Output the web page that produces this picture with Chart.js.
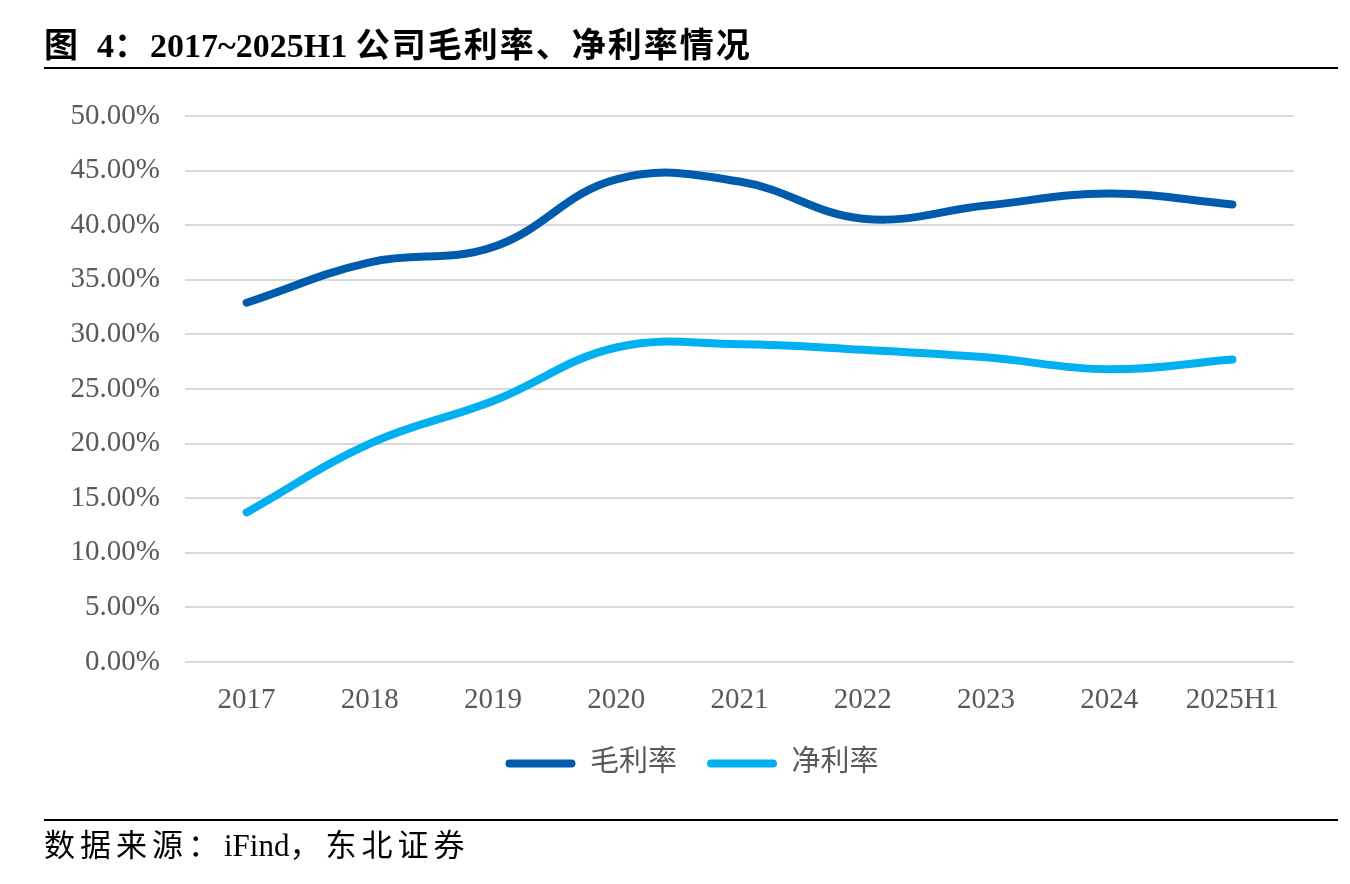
<!DOCTYPE html>
<html>
<head>
<meta charset="utf-8">
<script src="https://cdn.jsdelivr.net/npm/chart.js@4.4.1/dist/chart.umd.min.js"></script>
<style>
  html, body { margin: 0; padding: 0; background: #ffffff; }
  body { width: 1350px; height: 884px; position: relative; overflow: hidden; }
  #title { position: absolute; left: 44px; top: 26px; font-family: "Liberation Serif", "Noto Sans CJK SC", serif; font-weight: bold; font-size: 34px; line-height: 40px; color: #000; white-space: nowrap; }
  #title .cjk { letter-spacing: 2px; }
  #topline { position: absolute; left: 44px; top: 67px; width: 1294px; height: 2px; background: #000; }
  #botline { position: absolute; left: 44px; top: 819px; width: 1294px; height: 2px; background: #000; }
  #source { position: absolute; left: 44px; top: 826px; font-family: "Liberation Serif", "Noto Sans CJK SC", serif; font-size: 31px; line-height: 40px; color: #000; white-space: nowrap; }
  #source .cjk { letter-spacing: 5px; }
  #wrap { position: absolute; left: 0; top: 0; width: 1350px; height: 884px; }
</style>
</head>
<body>
<div id="wrap"><canvas id="c"></canvas></div>
<div id="title"><span class="cjk">图</span>&nbsp;&nbsp;4<span class="cjk">：</span>2017~2025H1 <span class="cjk">公司毛利率、净利率情况</span></div>
<div id="topline"></div>
<div id="botline"></div>
<div id="source"><span class="cjk">数据来源：</span>iFind<span class="cjk">，东北证券</span></div>
<script>
const categories = ["2017", "2018", "2019", "2020", "2021", "2022", "2023", "2024", "2025H1"];
const grossMargin = [32.9, 36.6, 38.0, 44.2, 44.0, 40.6, 41.8, 42.9, 41.9];
const netMargin = [13.7, 20.0, 23.9, 28.8, 29.1, 28.6, 27.9, 26.8, 27.7];
const seriesNames = ["毛利率", "净利率"];
const yTicks = [0, 5, 10, 15, 20, 25, 30, 35, 40, 45, 50];

const serif = '"Liberation Serif", "Noto Sans CJK SC", serif';

new Chart(document.getElementById('c'), {
  type: 'line',
  data: {
    labels: categories,
    datasets: [
      { label: seriesNames[0], data: grossMargin, yAxisID: 'y', borderColor: '#005BAC', backgroundColor: '#005BAC', borderWidth: 8, pointRadius: 0, tension: 0.4, borderCapStyle: 'round', fill: false },
      { label: seriesNames[1], data: netMargin, yAxisID: 'y', borderColor: '#00B0F0', backgroundColor: '#00B0F0', borderWidth: 8, pointRadius: 0, tension: 0.4, borderCapStyle: 'round', fill: false }
    ]
  },
  options: {
    responsive: true,
    maintainAspectRatio: false,
    animation: false,
    layout: { padding: { left: 60, right: 26, top: 116, bottom: 96 } },
    plugins: {
      tooltip: { enabled: false },
      legend: {
        position: 'bottom',
        labels: {
          boxWidth: 70,
          boxHeight: 8,
          useBorderRadius: true,
          borderRadius: 4,
          padding: 30,
          color: '#595959',
          font: { family: serif, size: 29 },
          generateLabels: (chart) => Chart.defaults.plugins.legend.labels.generateLabels(chart).map(l => Object.assign(l, { lineWidth: 0 }))
        }
      }
    },
    scales: {
      x: {
        offset: true,
        afterFit: (s) => { s.height = 57; },
        grid: { display: false, drawTicks: false },
        border: { display: false },
        ticks: { color: '#595959', font: { family: serif, size: 29 }, padding: 21, maxRotation: 0 }
      },
      y: {
        position: 'left',
        min: 0,
        max: 50,
        afterFit: (s) => { s.width = 125; },
        afterBuildTicks: (s) => { s.ticks = yTicks.map(v => ({ value: v })); },
        grid: { color: '#d9d9d9', lineWidth: 2, drawTicks: false },
        border: { display: false },
        ticks: { color: '#595959', font: { family: serif, size: 29 }, padding: 25, callback: (v) => v.toFixed(2) + '%' }
      },
      yR: {
        position: 'right',
        min: 0,
        max: 50,
        afterFit: (s) => { s.width = 30; },
        grid: { display: false, drawTicks: false },
        border: { display: false },
        ticks: { display: false }
      }
    }
  }
});
</script>
</body>
</html>
